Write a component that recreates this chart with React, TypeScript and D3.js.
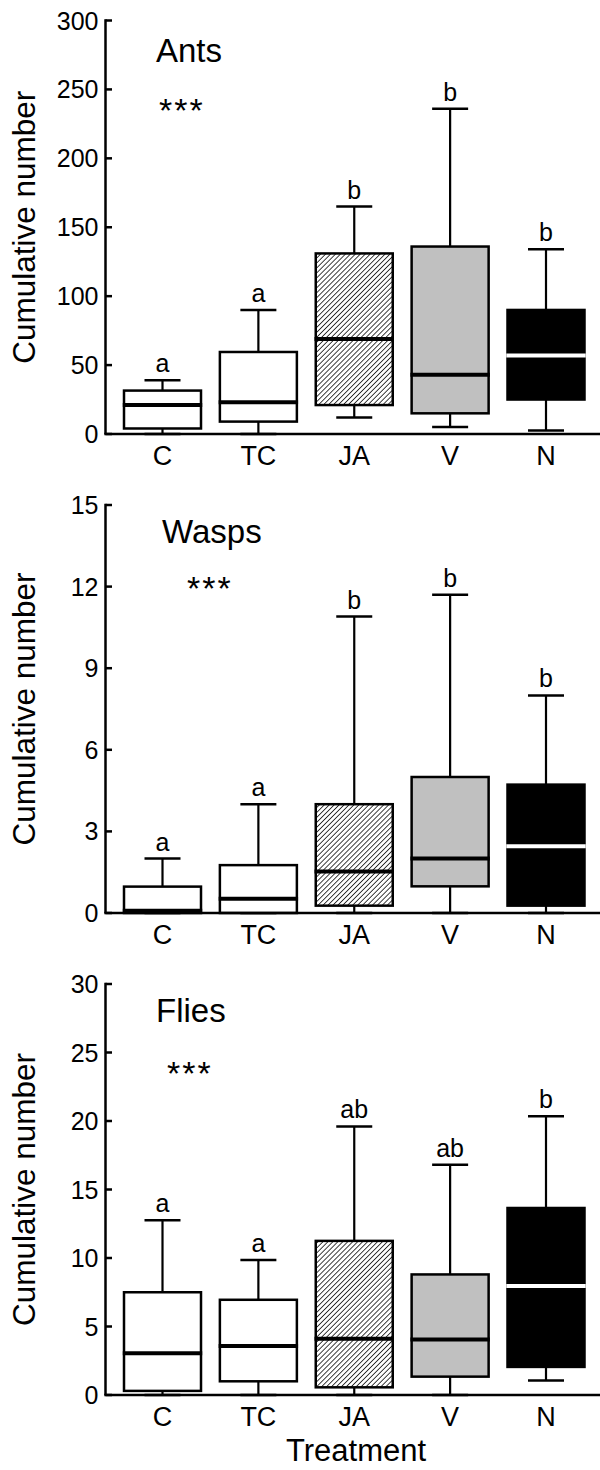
import React from "react";
import * as d3 from "d3";

const categories = ["C", "TC", "JA", "V", "N"];

const antsMin = [0, 0, 12, 5, 2.5];
const antsQ1 = [4, 9, 21, 15, 25];
const antsMedian = [21, 23, 69, 43, 57];
const antsQ3 = [31.5, 59.5, 131, 136, 90];
const antsMax = [39, 90, 165, 236, 134];
const antsLetters = ["a", "a", "b", "b", "b"];
const antsTicks = [0, 50, 100, 150, 200, 250, 300];

const waspsMin = [0, 0, 0, 0, 0];
const waspsQ1 = [0, 0, 0.27, 0.98, 0.27];
const waspsMedian = [0.08, 0.52, 1.53, 2.0, 2.45];
const waspsQ3 = [0.97, 1.76, 4.0, 5.0, 4.72];
const waspsMax = [2.0, 4.0, 10.9, 11.7, 8.0];
const waspsLetters = ["a", "a", "b", "b", "b"];
const waspsTicks = [0, 3, 6, 9, 12, 15];

const fliesMin = [0, 0, 0, 0, 1.05];
const fliesQ1 = [0.3, 1.0, 0.56, 1.34, 2.05];
const fliesMedian = [3.05, 3.57, 4.1, 4.06, 7.95];
const fliesQ3 = [7.5, 6.95, 11.25, 8.8, 13.65];
const fliesMax = [12.75, 9.85, 19.6, 16.8, 20.35];
const fliesLetters = ["a", "a", "ab", "ab", "b"];
const fliesTicks = [0, 5, 10, 15, 20, 25, 30];

const fills = ["#ffffff", "#ffffff", "url(#hatch)", "#c0c0c0", "#000000"];
const medianColors = ["#000", "#000", "#000", "#000", "#fff"];

const FONT = "'Liberation Sans', Arial, Helvetica, sans-serif";
const AXIS_X = 105.5;
const BOX_W = 77;
const CAP_W = 36;

const x = d3.scalePoint<string>().domain(categories).range([162.5, 546]);

type PanelProps = {
  title: string;
  top: number;
  bottom: number;
  ticks: number[];
  mins: number[];
  q1s: number[];
  medians: number[];
  q3s: number[];
  maxs: number[];
  letters: string[];
  titleX: number;
  titleDy: number;
  starsX: number;
  starsDy: number;
};

function Panel(p: PanelProps) {
  const yMax = p.ticks[p.ticks.length - 1];
  const y = d3.scaleLinear().domain([0, yMax]).range([p.bottom, p.top]);
  return (
    <g>
      {categories.map((c, i) => {
        const cx = x(c) as number;
        const yMin = y(p.mins[i]);
        const yQ1 = y(p.q1s[i]);
        const yMed = y(p.medians[i]);
        const yQ3 = y(p.q3s[i]);
        const yMx = y(p.maxs[i]);
        return (
          <g key={c}>
            <line x1={cx} x2={cx} y1={yQ3} y2={yMx} stroke="#000" strokeWidth={2.2} />
            <line x1={cx} x2={cx} y1={yQ1} y2={yMin} stroke="#000" strokeWidth={2.2} />
            <line x1={cx - CAP_W / 2} x2={cx + CAP_W / 2} y1={yMx} y2={yMx} stroke="#000" strokeWidth={2.5} />
            <line x1={cx - CAP_W / 2} x2={cx + CAP_W / 2} y1={yMin} y2={yMin} stroke="#000" strokeWidth={2.5} />
            <rect
              x={cx - BOX_W / 2}
              y={yQ3}
              width={BOX_W}
              height={Math.max(0, yQ1 - yQ3)}
              fill={fills[i]}
              stroke="#000"
              strokeWidth={2.5}
            />
            <line
              x1={cx - BOX_W / 2 - 1.2}
              x2={cx + BOX_W / 2 + 1.2}
              y1={yMed}
              y2={yMed}
              stroke={medianColors[i]}
              strokeWidth={4}
            />
            <text x={cx} y={yMx - 8} textAnchor="middle" fontSize={25} fontFamily={FONT} fill="#000">
              {p.letters[i]}
            </text>
          </g>
        );
      })}
      <line x1={AXIS_X} x2={AXIS_X} y1={p.top - 1.2} y2={p.bottom} stroke="#000" strokeWidth={2.5} />
      <line x1={AXIS_X - 1.2} x2={600} y1={p.bottom} y2={p.bottom} stroke="#000" strokeWidth={2.5} />
      {p.ticks.map((t) => (
        <g key={t}>
          <line x1={AXIS_X} x2={AXIS_X + 6.5} y1={y(t)} y2={y(t)} stroke="#000" strokeWidth={2.5} />
          <text
            x={AXIS_X - 7}
            y={y(t)}
            dy="0.36em"
            textAnchor="end"
            fontSize={25}
            fontFamily={FONT}
            fill="#000"
          >
            {t}
          </text>
        </g>
      ))}
      {categories.map((c) => (
        <text
          key={c}
          x={x(c) as number}
          y={p.bottom + 31}
          textAnchor="middle"
          fontSize={27}
          fontFamily={FONT}
          fill="#000"
        >
          {c}
        </text>
      ))}
      <text
        transform={`translate(35,${(p.top + p.bottom) / 2}) rotate(-90)`}
        textAnchor="middle"
        fontSize={31.5}
        fontFamily={FONT}
        fill="#000"
      >
        Cumulative number
      </text>
      <text x={p.titleX} y={p.top + p.titleDy} fontSize={33} fontFamily={FONT} fill="#000">
        {p.title}
      </text>
      <text
        x={p.starsX}
        y={p.top + p.starsDy}
        fontSize={34}
        letterSpacing={2}
        fontFamily={FONT}
        fill="#000"
      >
        ***
      </text>
    </g>
  );
}

export default function App() {
  return (
    <svg width={600} height={1470} style={{ position: "absolute", left: 0, top: 0, background: "#fff" }}>
      <defs>
        <pattern id="hatch" patternUnits="userSpaceOnUse" width={3.5} height={3.5} patternTransform="rotate(45)">
          <rect width={3.5} height={3.5} fill="#fff" />
          <line x1={0} y1={0} x2={0} y2={3.5} stroke="#000" strokeWidth={1.5} />
        </pattern>
      </defs>
      <rect width={600} height={1470} fill="#fff" />
      <Panel
        title="Ants"
        top={20.5}
        bottom={434}
        ticks={antsTicks}
        mins={antsMin}
        q1s={antsQ1}
        medians={antsMedian}
        q3s={antsQ3}
        maxs={antsMax}
        letters={antsLetters}
        titleX={156}
        titleDy={41}
        starsX={159}
        starsDy={101}
      />
      <Panel
        title="Wasps"
        top={505}
        bottom={913}
        ticks={waspsTicks}
        mins={waspsMin}
        q1s={waspsQ1}
        medians={waspsMedian}
        q3s={waspsQ3}
        maxs={waspsMax}
        letters={waspsLetters}
        titleX={162}
        titleDy={38}
        starsX={187}
        starsDy={95}
      />
      <Panel
        title="Flies"
        top={984}
        bottom={1395}
        ticks={fliesTicks}
        mins={fliesMin}
        q1s={fliesQ1}
        medians={fliesMedian}
        q3s={fliesQ3}
        maxs={fliesMax}
        letters={fliesLetters}
        titleX={156}
        titleDy={38}
        starsX={167}
        starsDy={101}
      />
      <text x={356} y={1461} textAnchor="middle" fontSize={31} fontFamily={FONT} fill="#000">
        Treatment
      </text>
    </svg>
  );
}
